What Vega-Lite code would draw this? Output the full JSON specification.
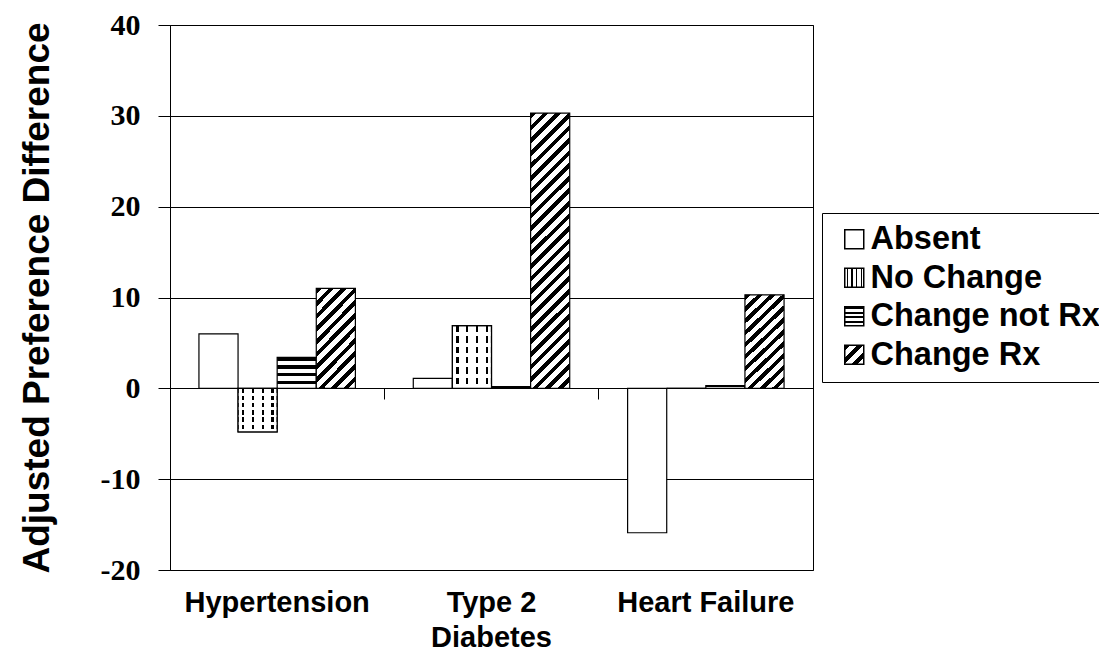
{
  "$schema": "https://vega.github.io/schema/vega-lite/v6.json",
  "width": 643,
  "height": 545,
  "autosize": {"type": "none"},
  "padding": {"left": 170, "top": 25, "right": 286, "bottom": 82},
  "background": "#ffffff",
  "config": {"view": {"stroke": "#000", "strokeWidth": 1}},
  "data": {
    "values": [
      {"category": "Hypertension", "series": "Absent", "value": 6.0},
      {"category": "Hypertension", "series": "No Change", "value": -4.8},
      {"category": "Hypertension", "series": "Change not Rx", "value": 3.4},
      {"category": "Hypertension", "series": "Change Rx", "value": 11.0},
      {"category": "Type 2 Diabetes", "series": "Absent", "value": 1.1},
      {"category": "Type 2 Diabetes", "series": "No Change", "value": 6.9},
      {"category": "Type 2 Diabetes", "series": "Change not Rx", "value": 0.2},
      {"category": "Type 2 Diabetes", "series": "Change Rx", "value": 30.3},
      {"category": "Heart Failure", "series": "Absent", "value": -15.9},
      {"category": "Heart Failure", "series": "No Change", "value": 0},
      {"category": "Heart Failure", "series": "Change not Rx", "value": 0.3},
      {"category": "Heart Failure", "series": "Change Rx", "value": 10.3}
    ]
  },
  "layer": [
    {
      "mark": {"type": "bar", "stroke": "#000", "strokeWidth": 1.2},
      "encoding": {
        "x": {
          "field": "category", "type": "nominal",
          "scale": {"domain": ["Hypertension", "Type 2 Diabetes", "Heart Failure"], "paddingInner": 0, "paddingOuter": 0},
          "axis": {
            "title": null, "orient": "bottom", "domain": false, "ticks": false, "grid": false,
            "labelAngle": 0, "labelFont": "Liberation Sans", "labelFontWeight": "bold", "labelFontSize": 29,
            "labelColor": "#000", "labelPadding": 18, "labelLineHeight": 35, "labelLimit": 400,
            "labelExpr": "datum.value == 'Type 2 Diabetes' ? ['Type 2', 'Diabetes'] : datum.value"
          }
        },
        "xOffset": {
          "field": "series", "type": "nominal",
          "scale": {"domain": ["Absent", "No Change", "Change not Rx", "Change Rx"], "paddingInner": 0, "paddingOuter": 0.74}
        },
        "y": {
          "field": "value", "type": "quantitative",
          "scale": {"domain": [-20, 40], "nice": false},
          "axis": {
            "title": "Adjusted Preference Difference",
            "values": [-20, -10, 0, 10, 20, 30, 40],
            "labelExpr": "'' + datum.value",
            "grid": true, "gridColor": "#000", "gridOpacity": 1, "gridWidth": 1,
            "domainColor": "#000", "tickColor": "#000", "tickSize": 12,
            "labelFont": "Liberation Serif", "labelFontWeight": "bold", "labelFontSize": 30, "labelColor": "#000", "labelPadding": 18,
            "titleFont": "Liberation Sans", "titleFontWeight": "bold", "titleFontSize": 37, "titleColor": "#000", "titlePadding": 44
          }
        },
        "fill": {
          "field": "series", "type": "nominal",
          "scale": {
            "domain": ["Absent", "No Change", "Change not Rx", "Change Rx"],
            "range": [
              "#ffffff",
              {"expr": "{gradient:'linear',x1:0,y1:0,x2:1,y2:0,stops:[{offset:0,color:'#fff'},{offset:0.1,color:'#fff'},{offset:0.1,color:'#000'},{offset:0.16,color:'#000'},{offset:0.16,color:'#fff'},{offset:0.35,color:'#fff'},{offset:0.35,color:'#000'},{offset:0.41,color:'#000'},{offset:0.41,color:'#fff'},{offset:0.6,color:'#fff'},{offset:0.6,color:'#000'},{offset:0.66,color:'#000'},{offset:0.66,color:'#fff'},{offset:0.85,color:'#fff'},{offset:0.85,color:'#000'},{offset:0.91,color:'#000'},{offset:0.91,color:'#fff'},{offset:1,color:'#fff'}]}"},
              {"expr": "{gradient:'linear',x1:0,y1:0,x2:0,y2:1,stops:[{offset:0,color:'#000'},{offset:0.11,color:'#000'},{offset:0.11,color:'#fff'},{offset:0.25,color:'#fff'},{offset:0.25,color:'#000'},{offset:0.36,color:'#000'},{offset:0.36,color:'#fff'},{offset:0.5,color:'#fff'},{offset:0.5,color:'#000'},{offset:0.61,color:'#000'},{offset:0.61,color:'#fff'},{offset:0.75,color:'#fff'},{offset:0.75,color:'#000'},{offset:0.86,color:'#000'},{offset:0.86,color:'#fff'},{offset:1,color:'#fff'}]}"},
              {"expr": "{gradient:'linear',x1:0,y1:0,x2:1,y2:1,stops:[{offset:0,color:'#000'},{offset:0.15,color:'#000'},{offset:0.15,color:'#fff'},{offset:0.3333,color:'#fff'},{offset:0.3333,color:'#000'},{offset:0.4833,color:'#000'},{offset:0.4833,color:'#fff'},{offset:0.6667,color:'#fff'},{offset:0.6667,color:'#000'},{offset:0.8167,color:'#000'},{offset:0.8167,color:'#fff'},{offset:1,color:'#fff'}]}"}
            ]
          },
          "legend": {
            "title": null, "orient": "none", "legendX": 652, "legendY": 188,
            "symbolType": "square", "symbolSize": 361, "symbolStrokeColor": "#000", "symbolStrokeWidth": 1.5, "symbolOffset": 6,
            "labelFont": "Liberation Sans", "labelFontWeight": "bold", "labelFontSize": 32.5, "labelColor": "#000",
            "labelLimit": 600, "labelOffset": 0, "rowPadding": 5.5, "strokeColor": "#000", "padding": 10
          },
          "condition": [
            {
              "test": "datum.series === 'Change Rx' && datum.category === 'Type 2 Diabetes'",
              "value": {
                "gradient": "linear", "x1": 0, "y1": 0, "x2": 0.1585, "y2": 1.119,
                "stops": [
                  {"offset": 0, "color": "#000"}, {"offset": 0.018, "color": "#000"}, {"offset": 0.018, "color": "#fff"}, {"offset": 0.04, "color": "#fff"},
                  {"offset": 0.04, "color": "#000"}, {"offset": 0.058, "color": "#000"}, {"offset": 0.058, "color": "#fff"}, {"offset": 0.08, "color": "#fff"},
                  {"offset": 0.08, "color": "#000"}, {"offset": 0.098, "color": "#000"}, {"offset": 0.098, "color": "#fff"}, {"offset": 0.12, "color": "#fff"},
                  {"offset": 0.12, "color": "#000"}, {"offset": 0.138, "color": "#000"}, {"offset": 0.138, "color": "#fff"}, {"offset": 0.16, "color": "#fff"},
                  {"offset": 0.16, "color": "#000"}, {"offset": 0.178, "color": "#000"}, {"offset": 0.178, "color": "#fff"}, {"offset": 0.2, "color": "#fff"},
                  {"offset": 0.2, "color": "#000"}, {"offset": 0.218, "color": "#000"}, {"offset": 0.218, "color": "#fff"}, {"offset": 0.24, "color": "#fff"},
                  {"offset": 0.24, "color": "#000"}, {"offset": 0.258, "color": "#000"}, {"offset": 0.258, "color": "#fff"}, {"offset": 0.28, "color": "#fff"},
                  {"offset": 0.28, "color": "#000"}, {"offset": 0.298, "color": "#000"}, {"offset": 0.298, "color": "#fff"}, {"offset": 0.32, "color": "#fff"},
                  {"offset": 0.32, "color": "#000"}, {"offset": 0.338, "color": "#000"}, {"offset": 0.338, "color": "#fff"}, {"offset": 0.36, "color": "#fff"},
                  {"offset": 0.36, "color": "#000"}, {"offset": 0.378, "color": "#000"}, {"offset": 0.378, "color": "#fff"}, {"offset": 0.4, "color": "#fff"},
                  {"offset": 0.4, "color": "#000"}, {"offset": 0.418, "color": "#000"}, {"offset": 0.418, "color": "#fff"}, {"offset": 0.44, "color": "#fff"},
                  {"offset": 0.44, "color": "#000"}, {"offset": 0.458, "color": "#000"}, {"offset": 0.458, "color": "#fff"}, {"offset": 0.48, "color": "#fff"},
                  {"offset": 0.48, "color": "#000"}, {"offset": 0.498, "color": "#000"}, {"offset": 0.498, "color": "#fff"}, {"offset": 0.52, "color": "#fff"},
                  {"offset": 0.52, "color": "#000"}, {"offset": 0.538, "color": "#000"}, {"offset": 0.538, "color": "#fff"}, {"offset": 0.56, "color": "#fff"},
                  {"offset": 0.56, "color": "#000"}, {"offset": 0.578, "color": "#000"}, {"offset": 0.578, "color": "#fff"}, {"offset": 0.6, "color": "#fff"},
                  {"offset": 0.6, "color": "#000"}, {"offset": 0.618, "color": "#000"}, {"offset": 0.618, "color": "#fff"}, {"offset": 0.64, "color": "#fff"},
                  {"offset": 0.64, "color": "#000"}, {"offset": 0.658, "color": "#000"}, {"offset": 0.658, "color": "#fff"}, {"offset": 0.68, "color": "#fff"},
                  {"offset": 0.68, "color": "#000"}, {"offset": 0.698, "color": "#000"}, {"offset": 0.698, "color": "#fff"}, {"offset": 0.72, "color": "#fff"},
                  {"offset": 0.72, "color": "#000"}, {"offset": 0.738, "color": "#000"}, {"offset": 0.738, "color": "#fff"}, {"offset": 0.76, "color": "#fff"},
                  {"offset": 0.76, "color": "#000"}, {"offset": 0.778, "color": "#000"}, {"offset": 0.778, "color": "#fff"}, {"offset": 0.8, "color": "#fff"},
                  {"offset": 0.8, "color": "#000"}, {"offset": 0.818, "color": "#000"}, {"offset": 0.818, "color": "#fff"}, {"offset": 0.84, "color": "#fff"},
                  {"offset": 0.84, "color": "#000"}, {"offset": 0.858, "color": "#000"}, {"offset": 0.858, "color": "#fff"}, {"offset": 0.88, "color": "#fff"},
                  {"offset": 0.88, "color": "#000"}, {"offset": 0.898, "color": "#000"}, {"offset": 0.898, "color": "#fff"}, {"offset": 0.92, "color": "#fff"},
                  {"offset": 0.92, "color": "#000"}, {"offset": 0.938, "color": "#000"}, {"offset": 0.938, "color": "#fff"}, {"offset": 0.96, "color": "#fff"},
                  {"offset": 0.96, "color": "#000"}, {"offset": 0.978, "color": "#000"}, {"offset": 0.978, "color": "#fff"}, {"offset": 1, "color": "#fff"}
                ]
              }
            },
            {
              "test": "datum.series === 'Change Rx'",
              "value": {
                "gradient": "linear", "x1": 0, "y1": 0, "x2": 0.483, "y2": 1.207,
                "stops": [
                  {"offset": 0, "color": "#000"}, {"offset": 0.041, "color": "#000"}, {"offset": 0.041, "color": "#fff"}, {"offset": 0.0909, "color": "#fff"},
                  {"offset": 0.0909, "color": "#000"}, {"offset": 0.1319, "color": "#000"}, {"offset": 0.1319, "color": "#fff"}, {"offset": 0.1818, "color": "#fff"},
                  {"offset": 0.1818, "color": "#000"}, {"offset": 0.2228, "color": "#000"}, {"offset": 0.2228, "color": "#fff"}, {"offset": 0.2727, "color": "#fff"},
                  {"offset": 0.2727, "color": "#000"}, {"offset": 0.3137, "color": "#000"}, {"offset": 0.3137, "color": "#fff"}, {"offset": 0.3636, "color": "#fff"},
                  {"offset": 0.3636, "color": "#000"}, {"offset": 0.4046, "color": "#000"}, {"offset": 0.4046, "color": "#fff"}, {"offset": 0.4545, "color": "#fff"},
                  {"offset": 0.4545, "color": "#000"}, {"offset": 0.4955, "color": "#000"}, {"offset": 0.4955, "color": "#fff"}, {"offset": 0.5455, "color": "#fff"},
                  {"offset": 0.5455, "color": "#000"}, {"offset": 0.5865, "color": "#000"}, {"offset": 0.5865, "color": "#fff"}, {"offset": 0.6364, "color": "#fff"},
                  {"offset": 0.6364, "color": "#000"}, {"offset": 0.6774, "color": "#000"}, {"offset": 0.6774, "color": "#fff"}, {"offset": 0.7273, "color": "#fff"},
                  {"offset": 0.7273, "color": "#000"}, {"offset": 0.7683, "color": "#000"}, {"offset": 0.7683, "color": "#fff"}, {"offset": 0.8182, "color": "#fff"},
                  {"offset": 0.8182, "color": "#000"}, {"offset": 0.8592, "color": "#000"}, {"offset": 0.8592, "color": "#fff"}, {"offset": 0.9091, "color": "#fff"},
                  {"offset": 0.9091, "color": "#000"}, {"offset": 0.9501, "color": "#000"}, {"offset": 0.9501, "color": "#fff"}, {"offset": 1, "color": "#fff"}
                ]
              }
            }
          ]
        }
      }
    },
    {
      "transform": [{"filter": "datum.series === 'No Change'"}],
      "mark": {
        "type": "bar", "stroke": "#000", "strokeWidth": 1.2,
        "fill": {
          "gradient": "linear", "x1": 0, "y1": 0, "x2": 0, "y2": 1,
          "stops": [
            {"offset": 0, "color": "rgba(255,255,255,0)"}, {"offset": 0.103, "color": "rgba(255,255,255,0)"}, {"offset": 0.103, "color": "#fff"}, {"offset": 0.1667, "color": "#fff"},
            {"offset": 0.1667, "color": "rgba(255,255,255,0)"}, {"offset": 0.27, "color": "rgba(255,255,255,0)"}, {"offset": 0.27, "color": "#fff"}, {"offset": 0.3333, "color": "#fff"},
            {"offset": 0.3333, "color": "rgba(255,255,255,0)"}, {"offset": 0.436, "color": "rgba(255,255,255,0)"}, {"offset": 0.436, "color": "#fff"}, {"offset": 0.5, "color": "#fff"},
            {"offset": 0.5, "color": "rgba(255,255,255,0)"}, {"offset": 0.603, "color": "rgba(255,255,255,0)"}, {"offset": 0.603, "color": "#fff"}, {"offset": 0.6667, "color": "#fff"},
            {"offset": 0.6667, "color": "rgba(255,255,255,0)"}, {"offset": 0.77, "color": "rgba(255,255,255,0)"}, {"offset": 0.77, "color": "#fff"}, {"offset": 0.8333, "color": "#fff"},
            {"offset": 0.8333, "color": "rgba(255,255,255,0)"}, {"offset": 0.936, "color": "rgba(255,255,255,0)"}, {"offset": 0.936, "color": "#fff"}, {"offset": 1, "color": "#fff"}
          ]
        }
      },
      "encoding": {
        "x": {
          "field": "category", "type": "nominal",
          "scale": {"domain": ["Hypertension", "Type 2 Diabetes", "Heart Failure"], "paddingInner": 0, "paddingOuter": 0},
          "axis": {
            "title": null, "orient": "bottom", "offset": -182, "labels": false, "grid": false,
            "domain": true, "domainColor": "#000", "domainWidth": 1,
            "ticks": true, "tickColor": "#000", "tickSize": 11, "bandPosition": 0
          }
        },
        "xOffset": {
          "field": "series", "type": "nominal",
          "scale": {"domain": ["Absent", "No Change", "Change not Rx", "Change Rx"], "paddingInner": 0, "paddingOuter": 0.74}
        },
        "y": {"field": "value", "type": "quantitative", "scale": {"domain": [-20, 40], "nice": false}}
      }
    }
  ],
  "resolve": {"axis": {"x": "independent"}}
}
